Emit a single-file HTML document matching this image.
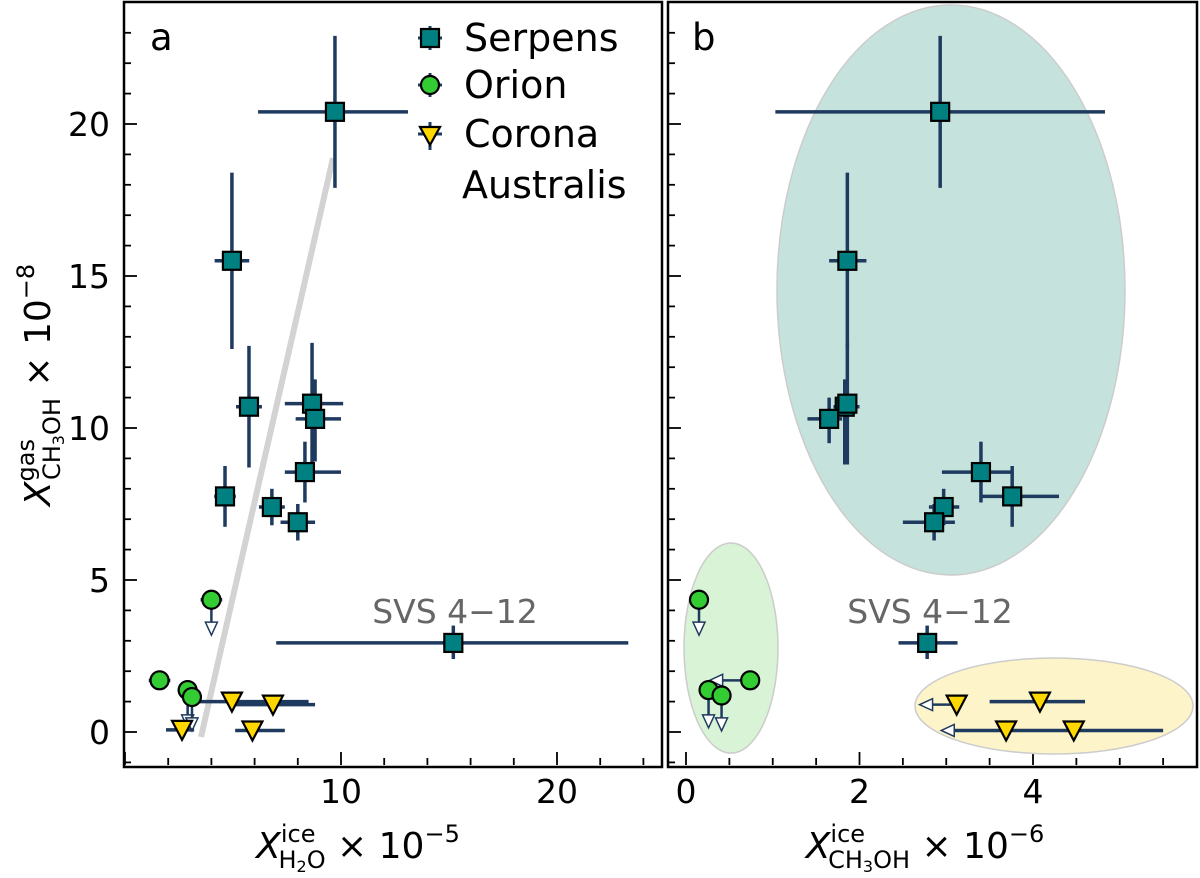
<!DOCTYPE html>
<html><head><meta charset="utf-8"><style>
body{margin:0;background:#fff}
svg{display:block;font-family:"DejaVu Sans","Liberation Sans",sans-serif}
</style></head><body>
<svg id="c" width="1200" height="878" viewBox="0 0 1200 878"></svg>
<script>
// Panel a: x = X_ice(H2O) x1e-5, y = X_gas(CH3OH) x1e-8
const serpA_x=[9.72,4.95,5.74,4.63,6.8,8.0,8.33,8.66,8.8,15.2];
const serpA_y=[20.4,15.5,10.7,7.75,7.4,6.9,8.55,10.8,10.3,2.93];
const serpA_xlo=[6.16,4.15,5.14,4.13,6.2,7.2,7.4,7.4,7.9,7.0];
const serpA_xhi=[13.1,5.75,6.34,5.13,7.4,8.8,10.0,10.1,10.0,23.3];
const serpA_ylo=[17.9,12.6,8.7,6.75,6.8,6.3,7.55,8.8,8.9,2.4];
const serpA_yhi=[22.9,18.4,12.7,8.75,8.0,7.5,9.55,12.8,11.6,3.5];
const orA_x=[4.0,1.6,2.9,3.1];
const orA_y=[4.35,1.7,1.38,1.15];
const orA_xerr=[0.5,0.5,0.3,0.3];
const orA_lim=[3.35,null,0.3,0.2];
const caA_x=[2.64,4.95,6.85,5.9];
const caA_y=[0.07,1.0,0.9,0.05];
const caA_xlo=[1.9,3.4,5.0,5.1];
const caA_xhi=[3.2,8.5,8.8,7.4];
// Panel b: x = X_ice(CH3OH) x1e-6
const serpB_x=[2.93,1.86,1.83,1.65,3.76,2.97,2.86,3.4,1.86,2.78];
const serpB_y=[20.4,15.5,10.7,10.3,7.75,7.4,6.9,8.55,10.8,2.93];
const serpB_xlo=[1.03,1.65,1.7,1.4,3.4,2.8,2.5,2.95,1.75,2.45];
const serpB_xhi=[4.83,2.08,2.0,1.8,4.3,3.15,3.1,3.75,1.95,3.13];
const serpB_ylo=[17.9,12.6,8.8,9.5,6.75,6.8,6.3,7.55,8.8,2.4];
const serpB_yhi=[22.9,18.4,11.6,11.0,8.75,8.0,7.5,9.55,12.8,3.5];
const orB_x=[0.15,0.74,0.26,0.41];
const orB_y=[4.35,1.7,1.38,1.2];
const orB_ylim=[3.35,null,0.3,0.2];
const orB_xlim=[null,0.33,null,null];
const caB_x=[3.12,4.08,3.69,4.47];
const caB_y=[0.9,1.0,0.05,0.05];
const caB_xlim=[2.75,null,null,3.0];
const caB_xlo=[null,3.5,3.0,null];
const caB_xhi=[null,4.6,5.5,5.5];
const yTicks=[0,5,10,15,20];
const xTicksA=[10,20];
const xTicksB=[0,2,4];

const S=document.getElementById('c');const NS='http://www.w3.org/2000/svg';
function el(t,a,p){const e=document.createElementNS(NS,t);for(const k in a)e.setAttribute(k,a[k]);(p||S).appendChild(e);return e;}
const Y=v=>732-v*30.4;
const XA=v=>125+v*21.6;
const XB=v=>686+v*86.75;
const EC='#1f3a5f';
function line(x1,y1,x2,y2,g,w){return el('line',{x1,y1,x2,y2,stroke:EC,'stroke-width':w||3.5},g);}
function sq(x,y,g){const e=el('rect',{x:x-9,y:y-9,width:18,height:18,fill:'#008080',stroke:'#000','stroke-width':2.2},g);}
function circ(x,y,g){const e=el('circle',{cx:x,cy:y,r:9,fill:'#33cc33',stroke:'#000','stroke-width':2.2},g);}
function tri(x,y,g){const e=el('polygon',{points:`${x-10},${y-9} ${x+10},${y-9} ${x},${y+10}`,fill:'#ffd700',stroke:'#000','stroke-width':2.2},g);}
function arrowDown(x,y1,y2,g){line(x,y1,x,y2-6,g,2.5);el('polygon',{points:`${x-6},${y2-8} ${x+6},${y2-8} ${x},${y2+5}`,fill:'#fff',stroke:EC,'stroke-width':1.5},g);}
function arrowLeft(x1,x2,y,g){line(x1,y,x2+6,y,g,2.5);el('polygon',{points:`${x2+8},${y-6} ${x2+8},${y+6} ${x2-5},${y}`,fill:'#fff',stroke:EC,'stroke-width':1.5},g);}

function axes(x0,x1,X,xmajor,xminorStep,xmin,xmax,name){
  const g=el('g',{});
  el('rect',{x:x0,y:2,width:x1-x0,height:765,fill:'none',stroke:'#000','stroke-width':2.5},g);
  for(let v=-1;v<=24;v++){const y=Y(v);if(y<4||y>765)continue;const M=v%5===0;el('line',{x1:x0,y1:y,x2:x0+(M?13:7),y2:y,stroke:'#000','stroke-width':1.8},g);}
  for(let v=Math.ceil(xmin/xminorStep)*xminorStep;v<=xmax;v+=xminorStep){const x=X(v);const M=Math.abs(v/(xmajor)-Math.round(v/xmajor))<1e-6;el('line',{x1:x,y1:765,x2:x,y2:765-(M?13:7),stroke:'#000','stroke-width':1.8},g);}
  return g;
}
const ga=axes(124,662,XA,10,2,0,24.8,'panel-a');
const gb=axes(668,1197,XB,2,0.5,0,5.85,'panel-b');
yTicks.forEach(v=>{const t=el('text',{x:110,y:Y(v)+12,'text-anchor':'end','font-size':33},ga);t.textContent=v;});
xTicksA.forEach(v=>{const t=el('text',{x:XA(v),y:803,'text-anchor':'middle','font-size':33},ga);t.textContent=v;});
xTicksB.forEach(v=>{const t=el('text',{x:XB(v),y:803,'text-anchor':'middle','font-size':33},gb);t.textContent=v;});

// ellipses panel b
const e1=el('ellipse',{cx:951,cy:290,rx:174,ry:285,fill:'#c5e3dc',stroke:'#ccc','stroke-width':1.5});
const e2=el('ellipse',{cx:731,cy:648,rx:47,ry:105,fill:'#d8f3d6',stroke:'#ccc','stroke-width':1.5});
const e3=el('ellipse',{cx:1054,cy:706,rx:139,ry:48,fill:'#fdf5c9',stroke:'#ccc','stroke-width':1.5});

// fit line panel a
const fl=el('line',{x1:201,y1:737,x2:333,y2:158,stroke:'#d3d3d3','stroke-width':6});

const pa=el('g',{});
serpA_x.forEach((v,i)=>{line(XA(serpA_xlo[i]),Y(serpA_y[i]),XA(serpA_xhi[i]),Y(serpA_y[i]),pa);line(XA(v),Y(serpA_ylo[i]),XA(v),Y(serpA_yhi[i]),pa);});
orA_x.forEach((v,i)=>{line(XA(v-orA_xerr[i]),Y(orA_y[i]),XA(v+orA_xerr[i]),Y(orA_y[i]),pa);if(orA_lim[i]!=null)arrowDown(XA(v),Y(orA_y[i]),Y(orA_lim[i]),pa);});
caA_x.forEach((v,i)=>line(XA(caA_xlo[i]),Y(caA_y[i]),XA(caA_xhi[i]),Y(caA_y[i]),pa));
serpA_x.forEach((v,i)=>sq(XA(v),Y(serpA_y[i]),pa));
orA_x.forEach((v,i)=>circ(XA(v),Y(orA_y[i]),pa));
caA_x.forEach((v,i)=>tri(XA(v),Y(caA_y[i]),pa));

const pb=el('g',{});
serpB_x.forEach((v,i)=>{line(XB(serpB_xlo[i]),Y(serpB_y[i]),XB(serpB_xhi[i]),Y(serpB_y[i]),pb);line(XB(v),Y(serpB_ylo[i]),XB(v),Y(serpB_yhi[i]),pb);});
orB_x.forEach((v,i)=>{if(orB_ylim[i]!=null)arrowDown(XB(v),Y(orB_y[i]),Y(orB_ylim[i]),pb);if(orB_xlim[i]!=null)arrowLeft(XB(v),XB(orB_xlim[i]),Y(orB_y[i]),pb);});
caB_x.forEach((v,i)=>{if(caB_xlo[i]!=null)line(XB(caB_xlo[i]),Y(caB_y[i]),XB(caB_xhi[i]),Y(caB_y[i]),pb);if(caB_xlim[i]!=null)arrowLeft(XB(v),XB(caB_xlim[i]),Y(caB_y[i]),pb);});
serpB_x.forEach((v,i)=>sq(XB(v),Y(serpB_y[i]),pb));
orB_x.forEach((v,i)=>circ(XB(v),Y(orB_y[i]),pb));
caB_x.forEach((v,i)=>tri(XB(v),Y(caB_y[i]),pb));
</script>
<svg style="position:absolute;left:0;top:0" width="1200" height="878">
<g font-family="DejaVu Sans, Liberation Sans, sans-serif">
<text x="150" y="50" font-size="37">a</text>
<text x="692" y="50" font-size="37">b</text>
<text x="455" y="623" font-size="33" fill="#666" text-anchor="middle">SVS 4−12</text>
<text x="930" y="623" font-size="33" fill="#666" text-anchor="middle">SVS 4−12</text>
<g font-size="38">
<g><line x1="418" y1="38" x2="442" y2="38" stroke="#1f3a5f" stroke-width="3"/><line x1="430" y1="26" x2="430" y2="50" stroke="#1f3a5f" stroke-width="3"/><rect x="421" y="29" width="18" height="18" fill="#008080" stroke="#000" stroke-width="2.2"/><text x="464" y="51">Serpens</text></g>
<g><line x1="418" y1="85" x2="442" y2="85" stroke="#1f3a5f" stroke-width="3"/><line x1="430" y1="73" x2="430" y2="97" stroke="#1f3a5f" stroke-width="3"/><circle cx="430" cy="85" r="9" fill="#33cc33" stroke="#000" stroke-width="2.2"/><text x="464" y="98">Orion</text></g>
<g><line x1="418" y1="134" x2="442" y2="134" stroke="#1f3a5f" stroke-width="3"/><line x1="430" y1="122" x2="430" y2="150" stroke="#1f3a5f" stroke-width="3"/><polygon points="420,127 440,127 430,145" fill="#ffd700" stroke="#000" stroke-width="2.2"/><text x="464" y="147">Corona</text><text x="462" y="198">Australis</text></g>
</g>
<text x="358" y="858" font-size="36" text-anchor="middle"><tspan font-style="italic">X</tspan><tspan font-size="24" dy="-16">ice</tspan><tspan font-size="24" dy="26" dx="-37">H</tspan><tspan font-size="16" dy="4">2</tspan><tspan font-size="24" dy="-4">O</tspan><tspan dy="-10"> × 10</tspan><tspan font-size="24" dy="-16">−5</tspan></text>
<text x="925" y="858" font-size="36" text-anchor="middle"><tspan font-style="italic">X</tspan><tspan font-size="24" dy="-16">ice</tspan><tspan font-size="24" dy="26" dx="-37">CH</tspan><tspan font-size="16" dy="4">3</tspan><tspan font-size="24" dy="-4">OH</tspan><tspan dy="-10"> × 10</tspan><tspan font-size="24" dy="-16">−6</tspan></text>
<text transform="translate(50,385) rotate(-90)" font-size="36" text-anchor="middle"><tspan font-style="italic">X</tspan><tspan font-size="24" dy="-16">gas</tspan><tspan font-size="24" dy="26" dx="-41">CH</tspan><tspan font-size="16" dy="4">3</tspan><tspan font-size="24" dy="-4">OH</tspan><tspan dy="-10"> × 10</tspan><tspan font-size="24" dy="-16">−8</tspan></text>
</g></svg>
</body></html>
